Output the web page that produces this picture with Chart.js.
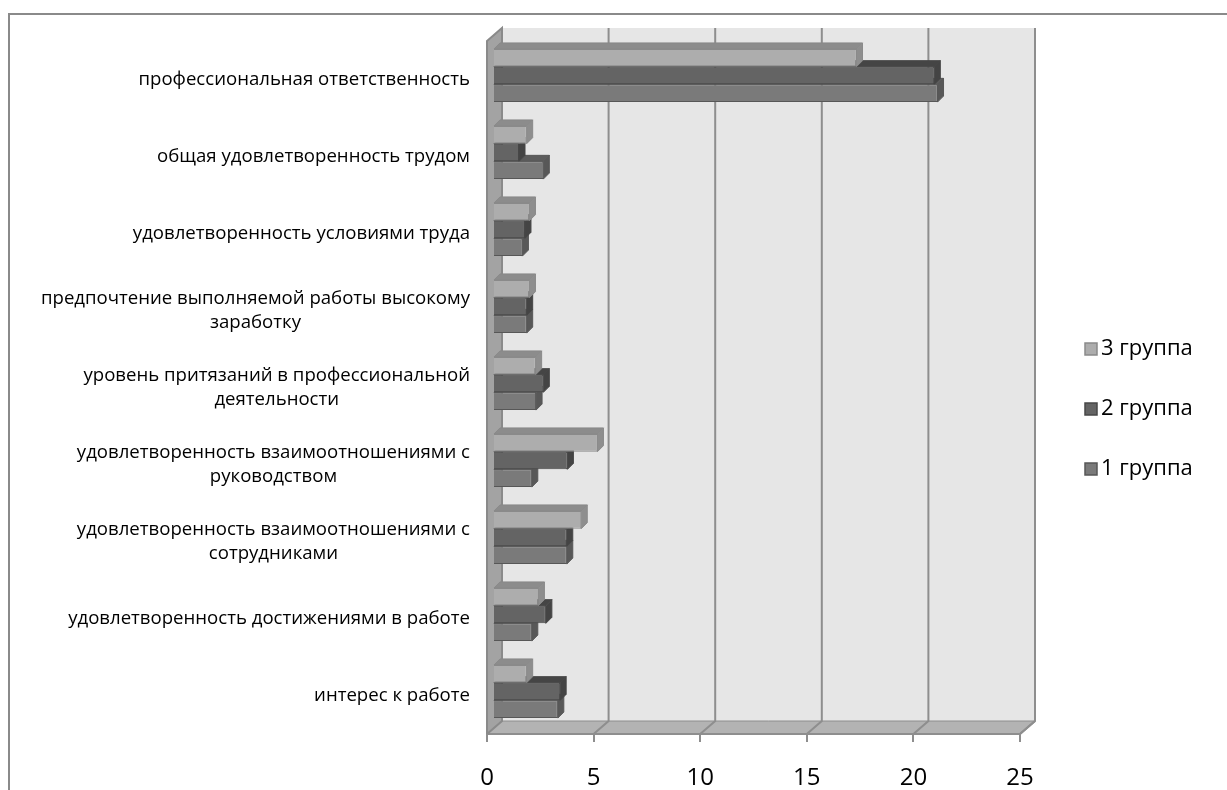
<!DOCTYPE html>
<html><head><meta charset="utf-8">
<script src="https://cdn.jsdelivr.net/npm/chart.js@4"></script>
<style>
html,body{margin:0;padding:0;background:#fff;}
#wrap{position:relative;width:1227px;height:790px;overflow:hidden;background:#fff;}
#frame{position:absolute;left:8px;top:13px;width:1400px;height:900px;border-left:2px solid #8a8a8a;border-top:2px solid #8a8a8a;}
canvas{position:absolute;left:0;top:0;}
</style></head><body>
<div id="wrap"><div id="frame"></div><canvas id="c" width="1227" height="790"></canvas></div>
<script>
const categories = [
  'профессиональная ответственность',
  'общая удовлетворенность трудом',
  'удовлетворенность условиями труда',
  ['предпочтение выполняемой работы высокому', 'заработку'],
  ['уровень притязаний в профессиональной', 'деятельности'],
  ['удовлетворенность взаимоотношениями с', 'руководством'],
  ['удовлетворенность взаимоотношениями с', 'сотрудниками'],
  'удовлетворенность достижениями в работе',
  'интерес к работе'
];
const seriesNames = ['3 группа', '2 группа', '1 группа'];
const group3 = [17.05, 1.58, 1.71, 1.71, 2.0, 4.9, 4.14, 2.13, 1.58];
const group2 = [20.7, 1.22, 1.5, 1.58, 2.36, 3.49, 3.46, 2.48, 3.15];
const group1 = [20.85, 2.36, 1.38, 1.58, 2.02, 1.82, 3.46, 1.82, 3.04];
const xTicks = [0, 5, 10, 15, 20, 25];

const FONT = "'Open Sans', sans-serif";
const styles = [
  {front:'#adadad', border:'#8a8a8a', top:'#8c8c8c', side:'#8e8e8e'},
  {front:'#646464', border:'#474747', top:'#454545', side:'#444444'},
  {front:'#7a7a7a', border:'#575757', top:'#5c5c5c', side:'#585858'}
];
const DEPTH = {dx: 15, dy: -13};
const BAR_SHIFT = {dx: 6, dy: -4};
const BAR_DEPTH = 6;

const wallsPlugin = {
  id: 'walls',
  beforeDraw(chart) {
    const {ctx, chartArea: a} = chart;
    const xs = chart.scales.x;
    const L = a.left, R = a.right, T = a.top, B = a.bottom, dx = DEPTH.dx, dy = DEPTH.dy;
    ctx.save();
    ctx.fillStyle = '#e6e6e6';
    ctx.fillRect(L + dx, T + dy, R - L, B - T);
    ctx.beginPath();
    ctx.moveTo(L, B); ctx.lineTo(L + dx, B + dy); ctx.lineTo(R + dx, B + dy); ctx.lineTo(R, B); ctx.closePath();
    ctx.fillStyle = '#b3b3b3'; ctx.fill();
    ctx.strokeStyle = '#8e8e8e'; ctx.lineWidth = 2;
    xTicks.forEach(v => {
      if (v === 0) return;
      const x = xs.getPixelForValue(v);
      ctx.beginPath();
      ctx.moveTo(x + dx, T + dy); ctx.lineTo(x + dx, B + dy); ctx.lineTo(x, B);
      ctx.stroke();
    });
    ctx.beginPath(); ctx.moveTo(L, B); ctx.lineTo(R, B); ctx.lineTo(R + dx, B + dy); ctx.stroke();
    ctx.lineWidth = 1;
    ctx.beginPath(); ctx.moveTo(L + dx, B + dy); ctx.lineTo(R + dx, B + dy); ctx.stroke();
    ctx.beginPath();
    ctx.moveTo(L, T); ctx.lineTo(L + dx, T + dy); ctx.lineTo(L + dx, B + dy); ctx.lineTo(L, B); ctx.closePath();
    ctx.fillStyle = '#a3a3a3'; ctx.fill();
    ctx.strokeStyle = '#8a8a8a'; ctx.lineWidth = 2; ctx.stroke();
    ctx.restore();
  },
  beforeDatasetsDraw(chart) {
    const ctx = chart.ctx;
    ctx.save();
    ctx.translate(BAR_SHIFT.dx, BAR_SHIFT.dy);
    const n = chart.data.labels.length;
    const d = BAR_DEPTH;
    for (let i = 0; i < n; i++) {
      for (let k = chart.data.datasets.length - 1; k >= 0; k--) {
        const el = chart.getDatasetMeta(k).data[i];
        const st = styles[k];
        const x0 = el.base, x1 = el.x, yt = el.y - el.height / 2, yb = el.y + el.height / 2;
        ctx.lineWidth = 1;
        ctx.strokeStyle = st.border;
        ctx.fillStyle = st.top;
        ctx.beginPath();
        ctx.moveTo(x0, yt); ctx.lineTo(x0 + d, yt - d); ctx.lineTo(x1 + d, yt - d); ctx.lineTo(x1, yt); ctx.closePath();
        ctx.fill(); ctx.stroke();
        ctx.fillStyle = st.side;
        ctx.beginPath();
        ctx.moveTo(x1, yt); ctx.lineTo(x1 + d, yt - d); ctx.lineTo(x1 + d, yb - d); ctx.lineTo(x1, yb); ctx.closePath();
        ctx.fill(); ctx.stroke();
      }
    }
  },
  afterDatasetsDraw(chart) {
    chart.ctx.restore();
  },
  afterDraw(chart) {
    const ctx = chart.ctx;
    const ys = chart.scales.y;
    ctx.save();
    ctx.fillStyle = '#000';
    ctx.font = '18.6px ' + FONT;
    ctx.textAlign = 'center';
    ctx.textBaseline = 'middle';
    const lh = 24, rightEdge = 470;
    categories.forEach((c, i) => {
      const lines = Array.isArray(c) ? c : [c];
      const w = Math.max(...lines.map(t => ctx.measureText(t).width));
      const cx = rightEdge - w / 2;
      const y = ys.getPixelForValue(i);
      lines.forEach((t, j) => {
        ctx.fillText(t, cx, y + (j - (lines.length - 1) / 2) * lh);
      });
    });
    ctx.font = '22px ' + FONT;
    ctx.textAlign = 'left';
    seriesNames.forEach((name, k) => {
      const y = 349 + k * 60;
      ctx.fillStyle = styles[k].front;
      ctx.fillRect(1085, y - 6, 12, 12);
      ctx.strokeStyle = styles[k].border;
      ctx.lineWidth = 1.5;
      ctx.strokeRect(1085, y - 6, 12, 12);
      ctx.fillStyle = '#000';
      ctx.fillText(name, 1101, y);
    });
    ctx.restore();
  }
};

new Chart(document.getElementById('c'), {
  type: 'bar',
  data: {
    labels: categories,
    datasets: [group3, group2, group1].map((vals, k) => ({
      label: seriesNames[k],
      data: vals,
      backgroundColor: styles[k].front,
      borderColor: styles[k].border,
      borderWidth: 1,
      categoryPercentage: 0.69,
      barPercentage: 1.0,
      clip: false
    }))
  },
  options: {
    indexAxis: 'y',
    responsive: false,
    animation: false,
    devicePixelRatio: 1,
    layout: {padding: {left: 487, right: 207, top: 41, bottom: 0}},
    plugins: {legend: {display: false}, tooltip: {enabled: false}},
    scales: {
      y: {display: false},
      x: {
        min: 0, max: 25,
        ticks: {stepSize: 5, color: '#000', font: {family: FONT, size: 24}, padding: 22},
        grid: {drawOnChartArea: false, drawTicks: true, tickLength: 8, color: '#8e8e8e', lineWidth: 2},
        border: {display: false},
        afterFit(s) { s.height = 56; }
      }
    }
  },
  plugins: [wallsPlugin]
});
</script>
</body></html>
